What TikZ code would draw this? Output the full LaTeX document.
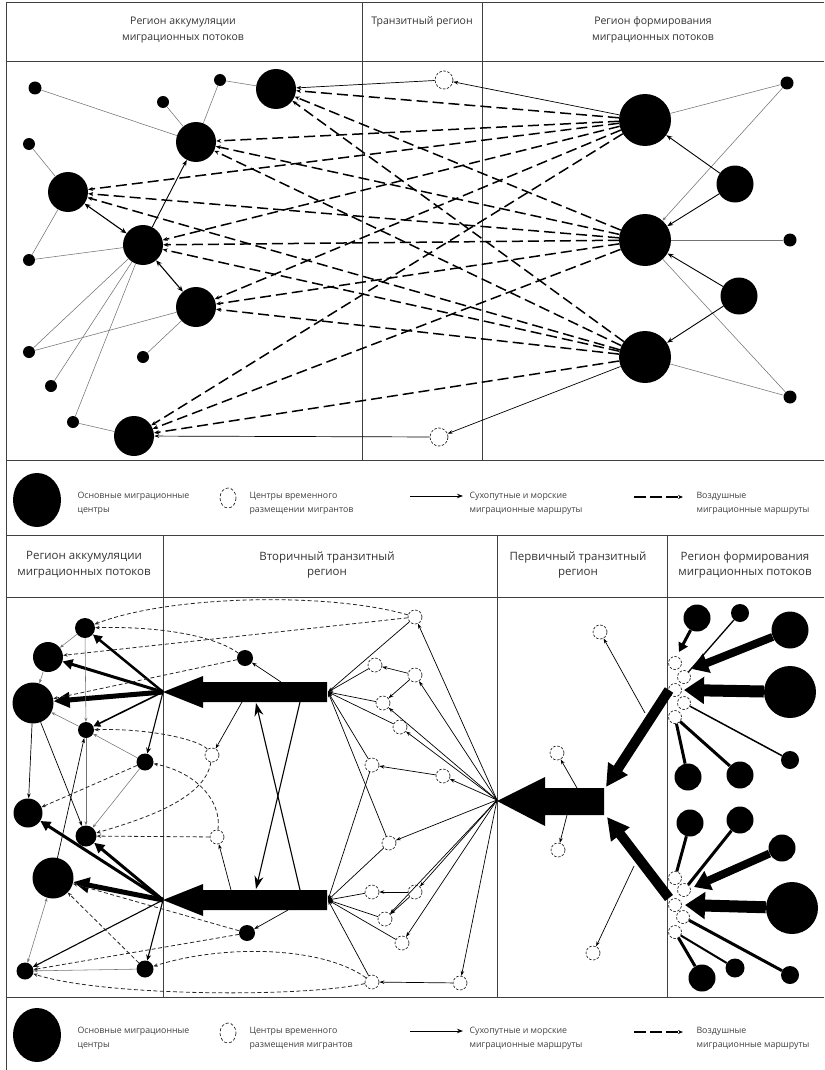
\documentclass[tikz,border=0pt]{standalone}
\usepackage{fontspec}
\setmainfont{Open Sans}
\usetikzlibrary{arrows.meta,calc}
\begin{document}
\begin{tikzpicture}[x=1pt,y=-1pt,
 blk/.style={circle,fill=black,draw=none,inner sep=0pt,minimum size=#1},
 tcc/.style={circle,draw=black!85,dash pattern=on 2.5pt off 1.6pt,line width=0.7pt,fill=white,inner sep=0pt,minimum size=#1},
 frm/.style={draw=black!75,line width=1pt},
 thn/.style={draw=black!55,line width=0.55pt},
 thnar/.style={thn,-{Stealth[length=4pt,width=3pt]}},
 sar/.style={draw=black,line width=0.9pt,-{Stealth[length=6pt,width=4.5pt]}},
 dbl/.style={draw=black,line width=1.1pt,{Stealth[length=6pt,width=5pt]}-{Stealth[length=6pt,width=5pt]}},
 far/.style={draw=black,line width=0.7pt,-{Stealth[length=5pt,width=3.5pt]}},
 dsh/.style={draw=black,line width=1.5pt,dash pattern=on 11pt off 5pt,-{Stealth[length=5pt,width=4pt]}},
 ldsh/.style={draw=black!85,line width=0.8pt,dash pattern=on 4pt off 2.5pt,-{Stealth[length=4.5pt,width=3.5pt]}},
 hdr/.style={font=\fontsize{10.5}{15.5}\selectfont,text=black!80,align=center},
 hdrb/.style={font=\fontsize{11.5}{15.5}\selectfont,text=black!80,align=center},
 lgd/.style={font=\fontsize{8.8}{14}\selectfont,text=black!75,align=left,anchor=west},
]
\useasboundingbox (0,0) rectangle (824,1070);
% ---------- frames ----------
\draw[frm] (6,3) -- (824,3);
\draw[frm] (6,3) -- (6,1070);
\draw[frm] (6,62) -- (824,62);
\draw[frm] (6,460) -- (824,460);
\draw[frm] (362,3) -- (362,460);
\draw[frm] (482,3) -- (482,460);
\draw[frm] (6,535) -- (824,535);
\draw[frm] (6,597) -- (824,597);
\draw[frm] (163,535) -- (163,997);
\draw[frm] (497,535) -- (497,997);
\draw[frm] (667,535) -- (667,997);
\draw[frm] (6,997) -- (824,997);
% ---------- headers ----------
\node[hdr] (h1) at (183,30) {Регион аккумуляции\\миграционных потоков};
\node[hdr] (h2) at (422,22) {Транзитный регион};
\node[hdr] (h3) at (653,30) {Регион формирования\\миграционных потоков};
\node[hdrb] (h4) at (84,565) {Регион аккумуляции\\миграционных потоков};
\node[hdrb] (h5) at (327,565) {Вторичный транзитный\\регион};
\node[hdrb] (h6) at (578,565) {Первичный транзитный\\регион};
\node[hdrb] (h7) at (745,565) {Регион формирования\\миграционных потоков};
% ---------- legends ----------
\foreach \yy/\txt in {500/размещении мигрантов,1035/размещения мигрантов}{
 \fill[black] (37,\yy) ellipse [x radius=24, y radius=27];
 \node[lgd] at (74,\yy+3) {Основные миграционные\\центры};
 \draw[black!85,line width=0.7pt,dash pattern=on 3pt off 2pt] (228,\yy-2) ellipse [x radius=8, y radius=10];
 \node[lgd] at (246,\yy+3) {Центры временного\\\txt};
 \draw[sar] (410,\yy-4) -- (463,\yy-4);
 \node[lgd] at (466,\yy+3) {Сухопутные и морские\\миграционные маршруты};
 \draw[dsh,line width=1.2pt,dash pattern=on 12pt off 4pt] (634,\yy-3) -- (683,\yy-3);
 \node[lgd] at (693,\yy+3) {Воздушные\\миграционные маршруты};
}
% ================= TOP DIAGRAM =================
\node[blk=40pt] (N1) at (276,89) {};
\node[blk=40pt] (N2) at (196,142) {};
\node[blk=40pt] (N3) at (68,192) {};
\node[blk=40pt] (N4) at (143,245) {};
\node[blk=40pt] (N5) at (196,307) {};
\node[blk=40pt] (N6) at (134,436) {};
\node[blk=13pt] (A) at (35,88) {};
\node[blk=12pt] (B) at (163,102) {};
\node[blk=12pt] (C) at (220,80) {};
\node[blk=12pt] (D) at (29,144) {};
\node[blk=12pt] (E) at (29,260) {};
\node[blk=12pt] (F) at (29,352) {};
\node[blk=12pt] (G) at (143,357) {};
\node[blk=12pt] (H) at (51,386) {};
\node[blk=12pt] (I) at (73,422) {};
\node[blk=52pt] (R1) at (645,120) {};
\node[blk=37pt] (R2) at (735,184) {};
\node[blk=52pt] (R3) at (645,240) {};
\node[blk=37pt] (R4) at (739,296) {};
\node[blk=52pt] (R5) at (645,357) {};
\node[blk=13pt] (S1) at (787,83) {};
\node[blk=13pt] (S2) at (790,240) {};
\node[blk=13pt] (S3) at (790,397) {};
\node[tcc=18pt] (T1) at (444,80) {};
\node[tcc=18pt] (T2) at (439,437) {};
% thin connections
\foreach \a/\b in {A/N2,B/N2,C/N2,C/N1,D/N3,N3/E,N4/E,N4/F,N5/F,N4/H,N4/I,N5/G,I/N6,R1/S1,R3/S2,R5/S3,R3/S3}
 \draw[thn] (\a) -- (\b);
\draw[thnar] (S1) -- (R3);
\draw[dbl] (N3) -- (N4);
\draw[dbl] (N4) -- (N5);
\draw[sar] (N4) -- (N2);
\draw[sar] (R2) -- (R1);
\draw[sar] (R2) -- (R3);
\draw[sar] (R4) -- (R3);
\draw[sar] (R4) -- (R5);
\draw[far] (R1) -- (T1);
\draw[far] (T1) -- (N1);
\draw[far] (R5) -- (T2);
\draw[far] (T2) -- (N6);
% air routes
\foreach \r in {R1,R3,R5}{
 \foreach \n in {N1,N2,N3,N4,N5,N6}{
  \draw[dsh] (\r) -- (\n);
 }
}
% ================= BOTTOM DIAGRAM =================
% big arrows
\fill[black] (163,692) -- (203,676) -- (203,682) -- (327,682) -- (327,702) -- (203,702) -- (203,708) -- cycle;
\fill[black] (163,900) -- (203,884) -- (203,890) -- (327,890) -- (327,910) -- (203,910) -- (203,916) -- cycle;
\fill[black] (497,801) -- (545,777) -- (545,788) -- (604,788) -- (604,815) -- (545,815) -- (545,826) -- cycle;
\coordinate (H1) at (163,692);
\coordinate (H3) at (163,900);
\coordinate (H2) at (497,800);
\coordinate (E1) at (328,692);
\coordinate (E2) at (328,900);
% accumulation nodes
\node[blk=20pt] (b1) at (85,628) {};
\node[blk=30pt] (b2) at (48,657) {};
\node[blk=41pt] (b3) at (33,703) {};
\node[blk=16pt] (b4) at (86,730) {};
\node[blk=17pt] (b5) at (145,762) {};
\node[blk=16pt] (b6) at (245,658) {};
\node[tcc=14pt] (c1) at (212,755) {};
\node[blk=29pt] (b7) at (28,813) {};
\node[blk=21pt] (b8) at (86,836) {};
\node[blk=41pt] (b9) at (53,878) {};
\node[blk=17pt] (b10) at (25,971) {};
\node[blk=17pt] (b11) at (145,969) {};
\node[blk=16pt] (b12) at (247,933) {};
\node[tcc=14pt] (c2) at (217,837) {};
% secondary transit nodes
\node[tcc=14pt] (t1) at (415,617) {};
\node[tcc=14pt] (t2) at (375,665) {};
\node[tcc=14pt] (t3) at (415,675) {};
\node[tcc=14pt] (t4) at (383,703) {};
\node[tcc=14pt] (t5) at (400,727) {};
\node[tcc=14pt] (t6) at (372,765) {};
\node[tcc=14pt] (t7) at (443,776) {};
\node[tcc=14pt] (u1) at (389,843) {};
\node[tcc=14pt] (u2) at (372,892) {};
\node[tcc=14pt] (u3) at (415,892) {};
\node[tcc=14pt] (u4) at (385,919) {};
\node[tcc=14pt] (u5) at (402,943) {};
\node[tcc=14pt] (u6) at (372,982) {};
\node[tcc=14pt] (u7) at (460,983) {};
% primary transit nodes
\node[tcc=14pt] (w1) at (600,632) {};
\node[tcc=14pt] (t8) at (557,753) {};
\node[tcc=14pt] (v1) at (558,850) {};
\node[tcc=14pt] (w2) at (593,953) {};
% formation region clusters
\foreach \n/\x/\y in {k1/675/663,k2/684/677,k3/675/690,k4/684/703,k5/675/717,m1/675/878,m2/684/890,m3/675/905,m4/683/917,m5/675/932}
 \node[tcc=13pt] (\n) at (\x,\y) {};
\node[blk=27pt] (p1) at (697,618) {};
\node[blk=18pt] (p2) at (740,613) {};
\node[blk=37pt] (p3) at (790,630) {};
\node[blk=52pt] (p4) at (790,692) {};
\node[blk=18pt] (p5) at (790,760) {};
\node[blk=27pt] (p6) at (740,775) {};
\node[blk=27pt] (p7) at (688,777) {};
\node[blk=27pt] (q1) at (690,823) {};
\node[blk=27pt] (q2) at (740,820) {};
\node[blk=27pt] (q3) at (782,848) {};
\node[blk=52pt] (q4) at (792,908) {};
\node[blk=18pt] (q5) at (790,975) {};
\node[blk=19pt] (q6) at (735,968) {};
\node[blk=27pt] (q7) at (702,978) {};
% formation -> clusters
\draw[line width=3pt,-{Triangle[length=9pt,width=10pt]}] (p1) -- (679,652);
\draw[line width=1.3pt] (p2) -- (k2);
\draw[line width=8pt,-{Triangle[length=16pt,width=20pt]}] (p3) -- (692,669);
\draw[line width=12pt,-{Triangle[length=20pt,width=26pt]}] (p4) -- (684,690);
\draw[line width=1.5pt] (p5) -- (k4);
\draw[line width=3pt] (p6) -- (k5);
\draw[line width=3pt] (p7) -- (k5);
\draw[line width=3pt] (q1) -- (m1);
\draw[line width=3pt] (q2) -- (m2);
\draw[line width=8pt,-{Triangle[length=16pt,width=20pt]}] (q3) -- (694,887);
\draw[line width=12pt,-{Triangle[length=20pt,width=26pt]}] (q4) -- (685,905);
\draw[line width=3pt] (q5) -- (m4);
\draw[line width=2pt] (q6) -- (m5);
\draw[line width=3pt] (q7) -- (m5);
% diagonal thick arrows to primary
\coordinate (D1s) at (669,690);
\coordinate (D1t) at (606,787);
\coordinate (D2s) at (669,898);
\coordinate (D2t) at (607,817);
\draw[line width=10pt,-{Triangle[length=22pt,width=22pt]}] (D1s) -- (D1t);
\draw[line width=10pt,-{Triangle[length=22pt,width=22pt]}] (D2s) -- (D2t);
% primary transit thin arrows
\coordinate (pw1) at (645,713);
\coordinate (pt8) at (577,788);
\coordinate (pv1) at (567,815);
\coordinate (pw2) at (634,866);
\draw[far] (pw1) -- (w1);
\draw[far] (pt8) -- (t8);
\draw[far] (pv1) -- (v1);
\draw[far] (pw2) -- (w2);
% secondary transit fan
\foreach \n in {t1,t3,t4,t5,t7,u1,u3,u4,u5,u7}
 \draw[far] (H2) -- (\n);
\draw[far] (t3) -- (t2);
\draw[far] (t3) -- (t4);
\draw[far] (t7) -- (t6);
\draw[far] (u3) -- (u2);
\draw[far] (u3) -- (u4);
\draw[far] (u7) -- (u6);
\foreach \n in {t1,t2,t4,t5,t6,u1}
 \draw[far] (\n) -- (E1);
\foreach \n in {u1,u2,u4,u5,u6,t6}
 \draw[far] (\n) -- (E2);
% between the two big arrows
\coordinate (X1a) at (300,702);
\coordinate (X1b) at (256,889);
\coordinate (X2a) at (300,890);
\coordinate (X2b) at (256,703);
\draw[line width=1.1pt,-{Stealth[length=13pt,width=9pt]}] (X1a) -- (X1b);
\draw[line width=1.1pt,-{Stealth[length=13pt,width=9pt]}] (X2a) -- (X2b);
\coordinate (s6) at (281,682);
\coordinate (sc1) at (242,702);
\coordinate (sc2) at (231,890);
\coordinate (s12) at (288,910);
\draw[far] (s6) -- (b6);
\draw[far] (sc1) -- (c1);
\draw[far] (sc2) -- (c2);
\draw[far] (s12) -- (b12);
% hub -> accumulation nodes
\draw[line width=2.5pt,-{Triangle[length=9pt,width=9pt]}] (H1) -- (b1);
\draw[line width=3pt,-{Triangle[length=10pt,width=10pt]}] (H1) -- (b2);
\draw[line width=5pt,-{Triangle[length=16pt,width=15pt]}] (H1) -- (b3);
\draw[line width=1.6pt,-{Triangle[length=7pt,width=7pt]}] (H1) -- (b4);
\draw[line width=1.1pt,-{Stealth[length=6pt,width=5pt]}] (H1) -- (b5);
\draw[line width=3pt,-{Triangle[length=10pt,width=10pt]}] (H3) -- (b7);
\draw[line width=3pt,-{Triangle[length=10pt,width=10pt]}] (H3) -- (b8);
\draw[line width=5pt,-{Triangle[length=16pt,width=15pt]}] (H3) -- (b9);
\draw[line width=1.1pt,-{Stealth[length=6pt,width=5pt]}] (H3) -- (b10);
\draw[line width=1.1pt,-{Stealth[length=6pt,width=5pt]}] (H3) -- (b11);
% internal links of accumulation region
\draw[thnar] (b1) -- (b2);
\draw[thnar] (b2) -- (b3);
\draw[thnar] (b1) -- (b4);
\draw[thnar] (b5) -- (b4);
\draw[thnar] (b4) -- (b3);
\draw[far] (b3) -- (b7);
\draw[far] (b3) -- (b8);
\draw[far] (b9) -- (b4);
\draw[thnar] (b4) -- (b8);
\draw[thnar] (b5) -- (b8);
\draw[thn,{Stealth[length=4pt,width=3pt]}-{Stealth[length=4pt,width=3pt]}] (b9) -- (b10);
\draw[thnar] (b11) -- (b10);
% dashed air links
\draw[ldsh] (t1) .. controls (330,592) and (170,595) .. (b1);
\draw[ldsh] (t1) -- (b2);
\draw[ldsh] (b6) .. controls (215,636) and (160,626) .. (b1);
\draw[ldsh] (b6) -- (b3);
\draw[ldsh] (c1) .. controls (200,740) and (150,728) .. (b4);
\draw[ldsh] (c2) .. controls (222,800) and (195,772) .. (b5);
\draw[ldsh] (b5) -- (b7);
\draw[ldsh] (c2) -- (b8);
\draw[ldsh] (c1) .. controls (205,800) and (140,820) .. (b8);
\draw[ldsh] (b12) -- (b9);
\draw[ldsh] (b12) -- (b10);
\draw[ldsh] (b11) -- (b9);
\draw[ldsh] (u6) .. controls (320,945) and (220,945) .. (b11);
\draw[ldsh] (u6) .. controls (300,998) and (100,996) .. (b10);
\end{tikzpicture}
\end{document}
